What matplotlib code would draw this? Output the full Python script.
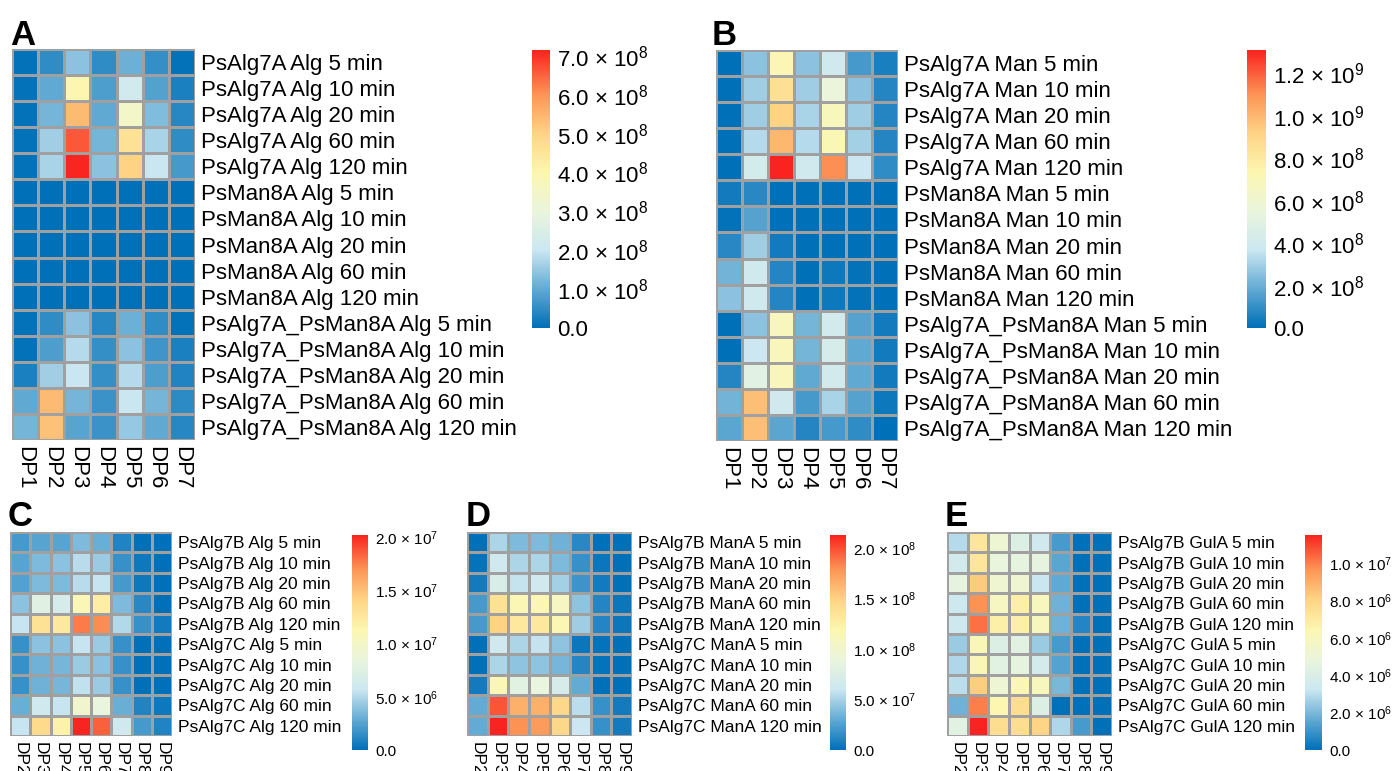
import numpy as np
import matplotlib
matplotlib.use("Agg")
import matplotlib.pyplot as plt
from matplotlib.colors import LinearSegmentedColormap, Normalize
from matplotlib.cm import ScalarMappable

plt.rcParams['font.family'] = ['Liberation Sans', 'DejaVu Sans']
plt.rcParams['mathtext.fontset'] = 'custom'
plt.rcParams['mathtext.rm'] = 'Liberation Sans'
plt.rcParams['mathtext.default'] = 'rm'

# ---------------- data ----------------
cols_top = ["DP1", "DP2", "DP3", "DP4", "DP5", "DP6", "DP7"]
cols_bot = ["DP2", "DP3", "DP4", "DP5", "DP6", "DP7", "DP8", "DP9"]
times = ["5 min", "10 min", "20 min", "60 min", "120 min"]

rows_A = ([f"PsAlg7A Alg {t}" for t in times] + [f"PsMan8A Alg {t}" for t in times]
          + [f"PsAlg7A_PsMan8A Alg {t}" for t in times])
rows_B = ([f"PsAlg7A Man {t}" for t in times] + [f"PsMan8A Man {t}" for t in times]
          + [f"PsAlg7A_PsMan8A Man {t}" for t in times])
rows_C = [f"PsAlg7B Alg {t}" for t in times] + [f"PsAlg7C Alg {t}" for t in times]
rows_D = [f"PsAlg7B ManA {t}" for t in times] + [f"PsAlg7C ManA {t}" for t in times]
rows_E = [f"PsAlg7B GulA {t}" for t in times] + [f"PsAlg7C GulA {t}" for t in times]

# panel A, units of 1e8
vals_A = [
    [0.05, 0.5, 1.4, 0.5, 1.1, 0.55, 0.05],
    [0.05, 1.0, 4.0, 0.8, 2.2, 0.85, 0.3],
    [0.05, 1.2, 5.4, 1.0, 3.5, 1.3, 0.4],
    [0.05, 1.6, 6.6, 1.2, 4.6, 1.7, 0.5],
    [0.05, 1.7, 7.1, 1.4, 5.0, 2.0, 0.7],
    [0.0, 0.0, 0.0, 0.0, 0.0, 0.0, 0.0],
    [0.0, 0.0, 0.0, 0.0, 0.0, 0.0, 0.0],
    [0.0, 0.0, 0.0, 0.0, 0.0, 0.0, 0.0],
    [0.0, 0.0, 0.0, 0.0, 0.0, 0.0, 0.0],
    [0.0, 0.0, 0.0, 0.0, 0.0, 0.0, 0.0],
    [0.05, 0.5, 1.4, 0.4, 1.1, 0.5, 0.05],
    [0.05, 0.8, 1.8, 0.55, 1.4, 0.65, 0.3],
    [0.3, 1.6, 2.0, 0.55, 1.8, 0.8, 0.35],
    [1.0, 5.4, 1.2, 0.6, 2.0, 1.2, 0.45],
    [1.2, 5.3, 0.9, 0.6, 1.5, 1.0, 0.4],
]
# panel B, units of 1e8
vals_B = [
    [0.0, 2.6, 7.2, 2.6, 3.9, 1.3, 0.5],
    [0.0, 2.9, 8.5, 2.9, 5.5, 2.6, 0.7],
    [0.0, 2.9, 9.2, 3.1, 6.8, 2.9, 0.7],
    [0.0, 3.3, 10.0, 3.3, 7.1, 3.0, 0.7],
    [0.0, 4.2, 13.1, 3.9, 11.1, 3.7, 0.9],
    [0.4, 0.8, 0.0, 0.0, 0.0, 0.0, 0.0],
    [0.1, 1.6, 0.0, 0.0, 0.0, 0.0, 0.0],
    [0.8, 2.9, 0.4, 0.0, 0.0, 0.0, 0.0],
    [2.1, 3.9, 0.7, 0.0, 0.3, 0.1, 0.0],
    [2.6, 3.9, 0.7, 0.0, 0.3, 0.1, 0.0],
    [0.0, 2.6, 6.8, 2.2, 4.1, 1.6, 0.4],
    [0.0, 3.7, 6.9, 2.2, 4.3, 1.8, 0.4],
    [0.7, 5.0, 6.9, 1.8, 4.1, 1.8, 0.4],
    [2.1, 9.8, 3.9, 1.3, 3.1, 1.6, 0.3],
    [1.7, 9.8, 1.7, 0.7, 1.3, 0.9, 0.0],
]
# panel C, units of 1e7
vals_C = [
    [0.20, 0.26, 0.26, 0.36, 0.30, 0.10, 0.0, 0.0],
    [0.26, 0.36, 0.40, 0.52, 0.44, 0.16, 0.04, 0.0],
    [0.24, 0.36, 0.36, 0.52, 0.56, 0.20, 0.04, 0.0],
    [0.40, 0.76, 0.66, 1.10, 1.20, 0.36, 0.12, 0.0],
    [0.56, 1.30, 1.24, 1.76, 1.72, 0.50, 0.16, 0.06],
    [0.16, 0.40, 0.40, 0.56, 0.44, 0.16, 0.0, 0.0],
    [0.16, 0.32, 0.34, 0.44, 0.40, 0.16, 0.0, 0.0],
    [0.16, 0.32, 0.34, 0.54, 0.44, 0.16, 0.0, 0.0],
    [0.30, 0.60, 0.56, 0.94, 0.84, 0.30, 0.10, 0.04],
    [0.56, 1.36, 1.16, 2.02, 1.84, 0.60, 0.20, 0.10],
]
# panel D, units of 1e8
vals_D = [
    [0.0, 0.51, 0.38, 0.38, 0.34, 0.13, 0.0, 0.0],
    [0.02, 0.64, 0.51, 0.51, 0.38, 0.17, 0.04, 0.0],
    [0.06, 0.72, 0.58, 0.64, 0.49, 0.19, 0.06, 0.0],
    [0.21, 1.38, 1.17, 1.17, 1.07, 0.43, 0.11, 0.04],
    [0.21, 1.49, 1.32, 1.32, 1.17, 0.47, 0.11, 0.04],
    [0.0, 0.64, 0.51, 0.58, 0.43, 0.04, 0.02, 0.0],
    [0.0, 0.51, 0.43, 0.43, 0.36, 0.11, 0.02, 0.0],
    [0.06, 1.15, 0.81, 0.89, 0.70, 0.30, 0.0, 0.0],
    [0.30, 1.98, 1.66, 1.66, 1.45, 0.55, 0.17, 0.06],
    [0.30, 2.13, 1.79, 1.75, 1.45, 0.60, 0.17, 0.06],
]
# panel E, units of 1e6
vals_E = [
    [2.9, 7.2, 5.2, 4.1, 3.5, 1.2, 0.0, 0.0],
    [3.6, 7.2, 4.8, 4.6, 4.6, 1.5, 0.0, 0.0],
    [4.6, 8.3, 5.3, 5.3, 3.2, 1.6, 0.0, 0.0],
    [3.4, 9.7, 5.8, 6.7, 6.0, 1.8, 0.0, 0.0],
    [3.4, 10.2, 6.7, 6.7, 6.0, 1.8, 0.6, 0.0],
    [2.5, 6.2, 4.1, 4.4, 2.5, 1.2, 0.0, 0.0],
    [2.8, 6.2, 4.4, 4.6, 3.7, 1.4, 0.0, 0.0],
    [3.0, 8.2, 5.1, 6.2, 6.0, 2.0, 0.0, 0.0],
    [1.8, 10.0, 6.4, 7.6, 4.1, 0.0, 0.0, 0.0],
    [4.4, 11.5, 7.6, 7.6, 8.0, 2.8, 1.2, 0.0],
]

ticks_A = [0, 1, 2, 3, 4, 5, 6, 7]
labels_A = ["0.0"] + [f"{v}.0 × 10$^{{8}}$" for v in range(1, 8)]
ticks_B = [0, 2, 4, 6, 8, 10, 12]
labels_B = ["0.0", "2.0 × 10$^{8}$", "4.0 × 10$^{8}$", "6.0 × 10$^{8}$", "8.0 × 10$^{8}$",
            "1.0 × 10$^{9}$", "1.2 × 10$^{9}$"]
ticks_C = [0, 0.5, 1.0, 1.5, 2.0]
labels_C = ["0.0", "5.0 × 10$^{6}$", "1.0 × 10$^{7}$", "1.5 × 10$^{7}$", "2.0 × 10$^{7}$"]
ticks_D = [0, 0.5, 1.0, 1.5, 2.0]
labels_D = ["0.0", "5.0 × 10$^{7}$", "1.0 × 10$^{8}$", "1.5 × 10$^{8}$", "2.0 × 10$^{8}$"]
ticks_E = [0, 2, 4, 6, 8, 10]
labels_E = ["0.0", "2.0 × 10$^{6}$", "4.0 × 10$^{6}$", "6.0 × 10$^{6}$", "8.0 × 10$^{6}$",
            "1.0 × 10$^{7}$"]

# ---------------- style ----------------
cmap = LinearSegmentedColormap.from_list("heat", [
    (0.0, "#0070B8"), (0.14, "#62AAD3"), (0.28, "#CBE7F1"), (0.42, "#EAF5DC"),
    (0.56, "#FCF6B0"), (0.70, "#FED485"), (0.84, "#FC9556"), (1.0, "#F9231F")])

W, H = 1397, 771
fig = plt.figure(figsize=(W / 100, H / 100), dpi=100)


def px_axes(x0, y0, x1, y1):
    return fig.add_axes([x0 / W, 1 - y1 / H, (x1 - x0) / W, (y1 - y0) / H])


def heatmap(box, cbox, vals, rows, cols, vmax, ticks, tlabels, fs, cfs, letter, lpos):
    ax = px_axes(*box)
    data = np.array(vals)
    norm = Normalize(0, vmax)
    ax.pcolormesh(data, cmap=cmap, norm=norm, edgecolors="#A0A0A0", linewidth=1)
    ax.set_xlim(0, data.shape[1])
    ax.set_ylim(data.shape[0], 0)
    ax.yaxis.tick_right()
    ax.set_yticks(np.arange(len(rows)) + 0.5)
    ax.set_yticklabels(rows, fontsize=fs)
    ax.set_xticks(np.arange(len(cols)) + 0.5)
    ax.set_xticklabels(cols, fontsize=fs, rotation=270, va="top", ha="center")
    ax.tick_params(length=0, pad=4)
    for s in ax.spines.values():
        s.set_visible(False)

    cax = px_axes(*cbox)
    cb = fig.colorbar(ScalarMappable(norm=norm, cmap=cmap), cax=cax)
    cb.outline.set_visible(False)
    cb.set_ticks(ticks)
    cb.set_ticklabels(tlabels)
    cax.tick_params(length=0, pad=5, labelsize=cfs)

    fig.text(lpos[0] / W, 1 - lpos[1] / H, letter, fontsize=25, fontweight="bold",
             ha="left", va="baseline")


heatmap((12, 49, 195, 440), (532, 50, 550, 328), vals_A, rows_A, cols_top, 7.15,
        ticks_A, labels_A, 16, 16, "A", (10, 45))
heatmap((716, 50, 898, 441), (1247, 50, 1266, 328), vals_B, rows_B, cols_top, 13.1,
        ticks_B, labels_B, 16, 16, "B", (712, 45))
heatmap((10, 532, 172, 736), (352, 535, 368, 750), vals_C, rows_C, cols_bot, 2.02,
        ticks_C, labels_C, 12.5, 11, "C", (8, 526))
heatmap((467, 532, 632, 736), (830, 535, 846, 750), vals_D, rows_D, cols_bot, 2.13,
        ticks_D, labels_D, 12.5, 11, "D", (466, 526))
heatmap((947, 532, 1112, 736), (1305, 535, 1322, 750), vals_E, rows_E, cols_bot, 11.5,
        ticks_E, labels_E, 12.5, 11, "E", (945, 526))

fig.savefig("out.png", dpi=100)
